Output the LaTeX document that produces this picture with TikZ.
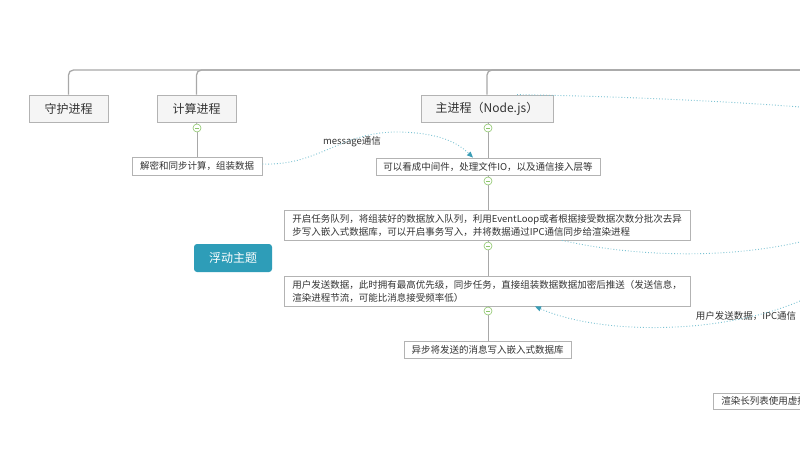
\documentclass[tikz,border=0pt]{standalone}
\usepackage{fontspec}
\setmainfont{Noto Sans CJK SC}
\usetikzlibrary{arrows.meta}
\definecolor{textc}{HTML}{333333}
\definecolor{boxgray}{HTML}{B3B3B3}
\definecolor{topicfill}{HTML}{F5F5F5}
\definecolor{linegray}{HTML}{A8A8A8}
\definecolor{foldgreen}{HTML}{8CC56A}
\definecolor{linkc}{HTML}{7CC3D3}
\definecolor{arrowc}{HTML}{3A9DB6}
\definecolor{floatc}{HTML}{2E9DB8}
\tikzset{
  topic/.style={draw=boxgray, fill=topicfill, line width=0.8pt, minimum height=27, inner sep=0pt, text=textc, font=\fontsize{12}{14}\selectfont},
  sub/.style={draw=boxgray, fill=white, line width=0.8pt, minimum height=17, inner sep=0pt, text=textc, font=\fontsize{9.5}{13}\selectfont},
  fold/.style={circle, draw=foldgreen, fill=white, minimum size=8, inner sep=0pt, line width=0.6pt,
    path picture={\draw[foldgreen, line width=0.6pt] ([xshift=2]path picture bounding box.west) -- ([xshift=-2]path picture bounding box.east);}},
  branch/.style={draw=linegray, line width=0.8pt},
  trunk/.style={draw=linegray, line width=1.3pt, rounded corners=5},
  link/.style={draw=linkc, dotted, line width=0.9pt},
  linkarrow/.style={-{Triangle[length=6pt,width=5pt,fill=arrowc,color=arrowc]}},
  lbl/.style={text=textc, inner sep=0pt, font=\fontsize{9.5}{12}\selectfont}
}
\begin{document}
\begin{tikzpicture}[x=1pt,y=-1pt]
\useasboundingbox (0,0) rectangle (800,463);
\fill[white] (0,0) rectangle (800,463);

% top-level topics
\node[topic, minimum width=79] (guard) at (68.5,108.5) {守护进程};
\node[topic, minimum width=79] (calc) at (196.5,108.5) {计算进程};
\node[topic, minimum width=132] (main) at (487,108.5) {主进程（Node.js）};
\coordinate (topright) at (800,70);

\draw[trunk] (guard.north) |- (topright);
\draw[trunk] (calc.north) |- (topright);
\draw[trunk] (main.north) |- (topright);

% sub topics
\node[sub, minimum width=130, minimum height=18] (calcsub) at (197,166) {解密和同步计算，组装数据};
\node[sub, minimum width=224] (mid1) at (488,166.5) {可以看成中间件，处理文件IO，以及通信接入层等};
\node[sub, minimum width=406, minimum height=30, align=left] (big1) at (487,225) {开启任务队列，将组装好的数据放入队列，利用EventLoop或者根据接受数据次数分批次去异\\步写入嵌入式数据库，可以开启事务写入，并将数据通过IPC通信同步给渲染进程};
\node[sub, minimum width=406, minimum height=30, align=left] (big2) at (487,291) {用户发送数据，此时拥有最高优先级，同步任务，直接组装数据数据加密后推送（发送信息，\\渲染进程节流，可能比消息接受频率低）};
\node[sub, minimum width=167] (async) at (487.5,349.5) {异步将发送的消息写入嵌入式数据库};
\node[sub, minimum height=16, anchor=west] (render) at (713,401) {\hspace{8pt}渲染长列表使用虚拟列表\hspace{8pt}};

% floating topic
\node[fill=floatc, rounded corners=3, minimum width=78, minimum height=28, inner sep=0pt, text=white, font=\fontsize{12}{14}\selectfont] (float) at (233,258) {浮动主题};

% folds and branches
\node[fold] (f1) at (197,128) {};
\draw[branch] (calc.south) -- (f1);
\draw[branch] (f1) -- (calcsub.north);

\node[fold] (f2) at (488,128) {};
\draw[branch] (main.south -| f2) -- (f2);
\draw[branch] (f2) -- (mid1.north);

\node[fold] (f3) at (488,181) {};
\draw[branch] (mid1.south) -- (f3);
\draw[branch] (f3) -- (big1.north -| f3);

\node[fold] (f4) at (488,246) {};
\draw[branch] (big1.south -| f4) -- (f4);
\draw[branch] (f4) -- (big2.north -| f4);

\node[fold] (f5) at (488,311) {};
\draw[branch] (big2.south -| f5) -- (f5);
\draw[branch] (f5) -- (async.north -| f5);

% dotted relationship links
\node[lbl] (msg) at (352,141.5) {message通信};
\draw[link, linkarrow] ([yshift=2]calcsub.east) .. controls (320,166) and (340,131) .. (400,132)
  .. controls (440,133) and (458,143) .. ([xshift=-15]mid1.north);

\coordinate (rightA) at (800,107);
\draw[link] ([xshift=30]main.north) .. controls (650,97) and (750,103) .. (rightA);

\coordinate (rightB) at (800,242);
\draw[link] ([xshift=75]big1.south) .. controls (640,258) and (730,258) .. (rightB);

\coordinate (rightC) at (800,301);
\node[lbl] (ipc) at (746,316) {用户发送数据，IPC通信};
\draw[link, linkarrow] (rightC) .. controls (720,335) and (600,335) .. ([xshift=48]big2.south);
\end{tikzpicture}
\end{document}
